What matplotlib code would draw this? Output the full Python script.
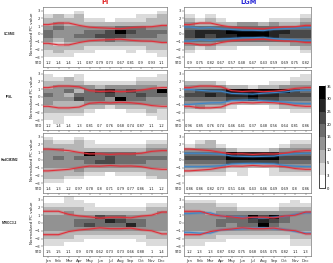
import numpy as np
import matplotlib
matplotlib.use('Agg')
import matplotlib.pyplot as plt
from matplotlib.colors import ListedColormap, BoundaryNorm

months = ['Jan', 'Feb', 'Mar', 'Apr', 'May', 'Jun', 'Jul', 'Aug', 'Sep', 'Oct', 'Nov', 'Dec']
models = ['CCSM3', 'IPSL', 'HadCM3M2', 'MIROC3.2']
periods = ['PI', 'LGM']
bin_edges = [-3.5, -3.0, -2.5, -2.0, -1.5, -1.0, -0.5, 0.0, 0.5, 1.0, 1.5, 2.0, 2.5, 3.0, 3.5]
cbar_levels = [0, 3, 5, 10, 15, 20, 25, 30, 35]

std_pi_ccsm3 = [1.2, 1.4, 1.4, 1.1, 0.87, 0.79, 0.73, 0.67, 0.81, 0.9, 0.93, 1.1]
std_lgm_ccsm3 = [0.9, 0.75, 0.82, 0.67, 0.57, 0.48, 0.47, 0.43, 0.59, 0.69, 0.75, 0.82]
std_pi_ipsl = [1.2, 1.4, 1.4, 1.3, 0.81, 0.7, 0.76, 0.68, 0.74, 0.87, 1.1, 1.2]
std_lgm_ipsl = [0.96, 0.85, 0.76, 0.74, 0.46, 0.41, 0.37, 0.48, 0.56, 0.64, 0.81, 0.86]
std_pi_hadcm3 = [1.4, 1.3, 1.2, 0.97, 0.78, 0.8, 0.71, 0.79, 0.77, 0.86, 1.1, 1.2]
std_lgm_hadcm3 = [0.86, 0.86, 0.82, 0.73, 0.51, 0.46, 0.43, 0.46, 0.49, 0.69, 0.8, 0.86]
std_pi_miroc = [1.5, 1.5, 1.1, 0.9, 0.78, 0.62, 0.73, 0.73, 0.66, 0.88, 1, 1.4]
std_lgm_miroc = [1.2, 1.3, 1.3, 0.87, 0.82, 0.75, 0.68, 0.65, 0.75, 0.82, 1.1, 1.3]

# frequency counts, rows = bins from top (3.0..3.5) to bottom (-3.5..-3.0), columns = months
counts_pi_ccsm3 = [
    [0, 0, 0, 0, 0, 0, 0, 0, 0, 0, 0, 0],
    [0, 0, 0, 4, 0, 0, 0, 0, 0, 0, 0, 4],
    [4, 8, 4, 8, 0, 0, 0, 0, 0, 4, 4, 8],
    [8, 8, 8, 8, 4, 4, 0, 4, 4, 4, 8, 8],
    [8, 12, 8, 8, 8, 8, 8, 8, 8, 8, 8, 8],
    [12, 17, 12, 12, 12, 12, 12, 17, 17, 17, 12, 12],
    [17, 12, 12, 12, 17, 17, 22, 33, 22, 17, 17, 17],
    [17, 12, 12, 17, 17, 22, 22, 22, 17, 17, 17, 12],
    [12, 8, 12, 12, 12, 12, 17, 12, 12, 12, 12, 12],
    [8, 4, 8, 8, 8, 8, 8, 8, 8, 8, 8, 8],
    [8, 8, 8, 8, 4, 4, 4, 4, 4, 4, 8, 8],
    [4, 8, 4, 4, 4, 0, 0, 0, 4, 0, 4, 4],
    [4, 4, 4, 0, 0, 0, 0, 0, 0, 0, 0, 4],
    [0, 0, 0, 0, 0, 0, 0, 0, 0, 0, 0, 0],
]
counts_lgm_ccsm3 = [
    [0, 0, 0, 0, 0, 0, 0, 0, 0, 0, 0, 0],
    [0, 0, 0, 0, 0, 0, 0, 0, 0, 0, 0, 0],
    [4, 0, 4, 0, 0, 0, 0, 0, 0, 0, 0, 4],
    [8, 4, 8, 4, 0, 0, 0, 0, 4, 4, 4, 8],
    [12, 8, 8, 8, 8, 12, 12, 8, 12, 8, 8, 12],
    [17, 17, 17, 17, 17, 17, 17, 17, 17, 17, 17, 17],
    [22, 27, 27, 27, 33, 33, 33, 33, 27, 27, 22, 22],
    [22, 27, 22, 27, 27, 33, 33, 33, 27, 22, 22, 22],
    [17, 17, 17, 17, 17, 17, 17, 17, 17, 17, 17, 17],
    [12, 12, 12, 8, 8, 8, 8, 8, 8, 8, 12, 12],
    [8, 4, 8, 4, 4, 0, 0, 0, 4, 4, 4, 8],
    [4, 0, 0, 0, 0, 0, 0, 0, 0, 0, 0, 4],
    [0, 0, 0, 0, 0, 0, 0, 0, 0, 0, 0, 0],
    [0, 0, 0, 0, 0, 0, 0, 0, 0, 0, 0, 0],
]
counts_pi_ipsl = [
    [0, 0, 0, 0, 0, 0, 0, 0, 0, 0, 0, 0],
    [4, 0, 0, 4, 0, 0, 0, 0, 0, 0, 0, 4],
    [4, 4, 8, 4, 0, 0, 0, 0, 0, 4, 4, 4],
    [8, 8, 8, 8, 4, 4, 4, 4, 4, 8, 8, 8],
    [8, 12, 12, 12, 12, 8, 12, 12, 12, 12, 12, 8],
    [12, 12, 17, 8, 17, 22, 27, 17, 22, 17, 17, 33],
    [17, 12, 8, 17, 17, 17, 22, 17, 17, 22, 17, 17],
    [12, 12, 12, 22, 17, 17, 12, 33, 17, 17, 12, 12],
    [12, 8, 8, 8, 12, 12, 12, 12, 12, 12, 12, 12],
    [8, 8, 8, 8, 8, 8, 4, 8, 8, 8, 8, 8],
    [8, 8, 8, 8, 4, 0, 0, 0, 4, 4, 8, 4],
    [4, 4, 4, 4, 0, 0, 0, 0, 0, 0, 4, 4],
    [4, 4, 0, 0, 0, 0, 0, 0, 0, 0, 0, 4],
    [0, 4, 0, 0, 0, 0, 0, 0, 0, 0, 0, 0],
]
counts_lgm_ipsl = [
    [0, 0, 0, 0, 0, 0, 0, 0, 0, 0, 0, 0],
    [0, 0, 0, 0, 0, 0, 0, 0, 0, 0, 0, 4],
    [0, 0, 0, 0, 0, 0, 0, 0, 0, 0, 4, 4],
    [8, 8, 8, 4, 0, 0, 0, 0, 4, 4, 8, 8],
    [12, 12, 12, 12, 8, 8, 4, 8, 8, 12, 12, 12],
    [17, 22, 22, 22, 33, 33, 33, 33, 33, 33, 22, 17],
    [22, 22, 27, 22, 27, 27, 33, 27, 27, 22, 22, 22],
    [17, 17, 17, 17, 22, 22, 27, 22, 22, 17, 17, 17],
    [12, 12, 12, 12, 8, 8, 8, 8, 8, 12, 12, 12],
    [8, 12, 8, 8, 4, 0, 0, 0, 4, 8, 8, 8],
    [4, 4, 4, 4, 0, 0, 0, 0, 0, 0, 4, 4],
    [0, 0, 0, 0, 0, 0, 0, 0, 0, 0, 0, 0],
    [0, 0, 0, 0, 0, 0, 0, 0, 0, 0, 0, 0],
    [0, 0, 0, 0, 0, 0, 0, 0, 0, 0, 0, 0],
]
counts_pi_hadcm3 = [
    [0, 0, 0, 0, 0, 0, 0, 0, 0, 0, 0, 0],
    [4, 0, 0, 4, 0, 0, 0, 0, 0, 0, 0, 0],
    [8, 4, 4, 8, 4, 0, 0, 0, 0, 0, 4, 4],
    [8, 8, 8, 8, 4, 4, 4, 4, 4, 4, 8, 8],
    [12, 12, 8, 8, 8, 8, 8, 8, 8, 8, 12, 12],
    [12, 12, 12, 12, 33, 17, 17, 17, 17, 12, 12, 12],
    [12, 17, 12, 17, 17, 17, 22, 17, 17, 17, 17, 17],
    [12, 12, 12, 12, 17, 22, 22, 17, 17, 17, 12, 12],
    [12, 12, 12, 12, 12, 12, 12, 12, 12, 12, 12, 12],
    [8, 8, 8, 12, 8, 8, 8, 8, 8, 8, 8, 8],
    [8, 8, 8, 8, 4, 4, 0, 4, 4, 4, 8, 8],
    [8, 8, 4, 4, 0, 0, 0, 0, 0, 0, 4, 8],
    [4, 4, 0, 0, 0, 0, 0, 0, 0, 0, 0, 0],
    [0, 0, 0, 0, 0, 0, 0, 0, 0, 0, 0, 0],
]
counts_lgm_hadcm3 = [
    [0, 0, 0, 0, 0, 0, 0, 0, 0, 0, 0, 0],
    [0, 0, 0, 0, 0, 0, 0, 0, 0, 0, 0, 0],
    [0, 4, 8, 0, 0, 0, 0, 0, 0, 0, 4, 4],
    [4, 8, 8, 4, 0, 0, 0, 0, 0, 4, 8, 8],
    [12, 12, 12, 12, 8, 4, 4, 4, 8, 12, 12, 12],
    [17, 17, 17, 17, 33, 27, 27, 27, 27, 17, 17, 17],
    [22, 22, 22, 22, 33, 33, 33, 33, 33, 22, 22, 22],
    [17, 17, 17, 17, 22, 22, 22, 22, 22, 17, 17, 17],
    [12, 12, 12, 12, 8, 8, 8, 8, 8, 12, 12, 12],
    [8, 8, 8, 8, 4, 4, 0, 0, 4, 8, 8, 8],
    [4, 4, 4, 4, 0, 4, 0, 0, 4, 4, 4, 4],
    [0, 0, 0, 0, 0, 0, 0, 0, 0, 0, 0, 0],
    [0, 0, 0, 0, 0, 0, 0, 0, 0, 0, 0, 0],
    [0, 0, 0, 0, 0, 0, 0, 0, 0, 0, 0, 0],
]
counts_pi_miroc = [
    [0, 0, 4, 0, 0, 0, 0, 0, 0, 0, 0, 0],
    [0, 0, 4, 4, 0, 0, 0, 0, 0, 0, 0, 0],
    [4, 4, 4, 4, 4, 0, 0, 0, 0, 0, 4, 4],
    [8, 8, 8, 8, 4, 4, 4, 4, 4, 4, 8, 8],
    [8, 8, 12, 8, 8, 8, 8, 8, 8, 8, 8, 12],
    [12, 12, 12, 12, 12, 22, 17, 17, 12, 12, 12, 12],
    [12, 12, 12, 17, 17, 17, 27, 22, 17, 17, 12, 12],
    [12, 12, 12, 17, 22, 17, 17, 17, 27, 17, 12, 12],
    [12, 12, 12, 12, 12, 12, 12, 12, 12, 12, 12, 12],
    [8, 8, 8, 8, 8, 8, 8, 8, 8, 8, 8, 8],
    [8, 8, 8, 4, 4, 4, 4, 4, 4, 4, 8, 8],
    [4, 4, 4, 4, 0, 0, 0, 0, 0, 4, 4, 4],
    [4, 4, 0, 0, 0, 0, 0, 0, 0, 0, 4, 4],
    [0, 0, 0, 0, 0, 0, 0, 0, 0, 0, 0, 0],
]
counts_lgm_miroc = [
    [0, 0, 0, 0, 0, 0, 0, 0, 0, 0, 0, 0],
    [4, 4, 4, 0, 0, 0, 0, 0, 0, 0, 4, 0],
    [8, 8, 8, 4, 4, 0, 0, 0, 0, 4, 4, 4],
    [8, 8, 8, 8, 8, 4, 4, 4, 4, 8, 8, 8],
    [12, 12, 8, 12, 12, 12, 12, 12, 12, 12, 12, 12],
    [12, 12, 12, 12, 17, 17, 33, 22, 33, 17, 12, 12],
    [12, 12, 12, 17, 17, 17, 22, 27, 22, 17, 12, 12],
    [12, 12, 12, 17, 12, 17, 17, 33, 17, 12, 12, 12],
    [12, 12, 12, 12, 12, 12, 12, 12, 12, 12, 12, 12],
    [8, 8, 8, 8, 8, 8, 8, 8, 8, 8, 8, 8],
    [8, 8, 8, 4, 4, 4, 4, 4, 4, 4, 8, 8],
    [4, 4, 4, 4, 0, 0, 0, 0, 0, 0, 4, 4],
    [4, 4, 0, 0, 0, 0, 0, 0, 0, 0, 4, 4],
    [0, 0, 0, 0, 0, 0, 0, 0, 0, 0, 0, 0],
]

panels = [
    (counts_pi_ccsm3, std_pi_ccsm3, counts_lgm_ccsm3, std_lgm_ccsm3),
    (counts_pi_ipsl, std_pi_ipsl, counts_lgm_ipsl, std_lgm_ipsl),
    (counts_pi_hadcm3, std_pi_hadcm3, counts_lgm_hadcm3, std_lgm_hadcm3),
    (counts_pi_miroc, std_pi_miroc, counts_lgm_miroc, std_lgm_miroc),
]

W, H = 333, 263
fig = plt.figure(figsize=(W / 100, H / 100), dpi=100)
plt.rcParams['font.family'] = ['DejaVu Sans']

ncol = len(cbar_levels) - 1
greys = [str(1 - i / (ncol - 1)) for i in range(ncol)]
cmap = ListedColormap(greys)
norm = BoundaryNorm(cbar_levels, ncol)

RED = '#e0303a'
BLUE = '#3f86c8'
col_x = [(43, 167), (184, 311)]
row_top = [6.7, 69.7, 132.7, 195.7]
row_h = 60.0
ylo, yhi = -4.2, 3.5
xm = np.arange(1, len(months) + 1)
xe = np.arange(0.5, len(months) + 1)


def std_line(ax, s, color):
    xs = np.r_[0.5, xm, len(months) + 0.5]
    ys = np.r_[s[0], s, s[-1]]
    for sign in (1, -1):
        ax.plot(xs, sign * ys, color=color, lw=2.2, alpha=0.25, solid_capstyle='butt', zorder=3)
        ax.plot(xs, sign * ys, color=color, lw=0.8, zorder=4)


mesh = None
for r, (cpi, spi, clgm, slgm) in enumerate(panels):
    for c in range(2):
        x0, x1 = col_x[c]
        ax = fig.add_axes([x0 / W, 1 - (row_top[r] + row_h) / H, (x1 - x0) / W, row_h / H])
        counts = np.array(cpi if c == 0 else clgm)[::-1]
        mesh = ax.pcolormesh(xe, bin_edges, counts, cmap=cmap, norm=norm, zorder=1)
        if c == 1:
            std_line(ax, slgm, BLUE)
        std_line(ax, spi, RED)
        s = spi if c == 0 else slgm
        for i, v in enumerate(s):
            ax.text(xm[i], -3.78, f'{v:g}', ha='center', va='center', fontsize=2.6, color='#222')
        ax.text(-0.012, (-3.78 - ylo) / (yhi - ylo), 'STD', transform=ax.transAxes,
                ha='right', va='center', fontsize=2.6, color='#222')
        ax.set_xlim(0.5, len(months) + 0.5)
        ax.set_ylim(ylo, yhi)
        ax.set_yticks(range(-3, 4))
        ax.set_yticklabels([str(v).replace('-', '\u2212') for v in range(-3, 4)])
        ax.set_xticks(xm)
        if r == len(panels) - 1:
            ax.set_xticklabels(months)
        else:
            ax.set_xticklabels([])
        ax.tick_params(axis='both', labelsize=2.8, length=1.2, width=0.3, pad=1, colors='#333')
        for sp in ax.spines.values():
            sp.set_linewidth(0.5)
            sp.set_color('#777')
        if c == 0:
            ax.text(-0.085, (0 - ylo) / (yhi - ylo), 'Normalized PC value', transform=ax.transAxes,
                    rotation=90, ha='center', va='center', fontsize=3.0, color='#222')
            fig.text(9.2 / W, 1 - (row_top[r] + (yhi - 0) / (yhi - ylo) * row_h) / H, models[r],
                     ha='center', va='center', fontsize=2.3, fontweight='bold', color='#222',
                     family=['Liberation Sans', 'DejaVu Sans'])
        if r == 0:
            fig.text(((x0 + x1) / 2 + (1 if c == 1 else -0)) / W, 1 - 2.2 / H, periods[c],
                     ha='center', va='center', fontsize=4.8, fontweight='bold',
                     color='#e02020' if c == 0 else '#2a2ad8')

cax = fig.add_axes([319 / W, 1 - 188 / H, 5.5 / W, 102 / H])
cb = fig.colorbar(mesh, cax=cax, ticks=cbar_levels, spacing='uniform')
cb.ax.tick_params(labelsize=2.7, length=1.0, width=0.3, pad=0.6)
cb.outline.set_linewidth(0.5)

fig.savefig('out.png', dpi=100)
